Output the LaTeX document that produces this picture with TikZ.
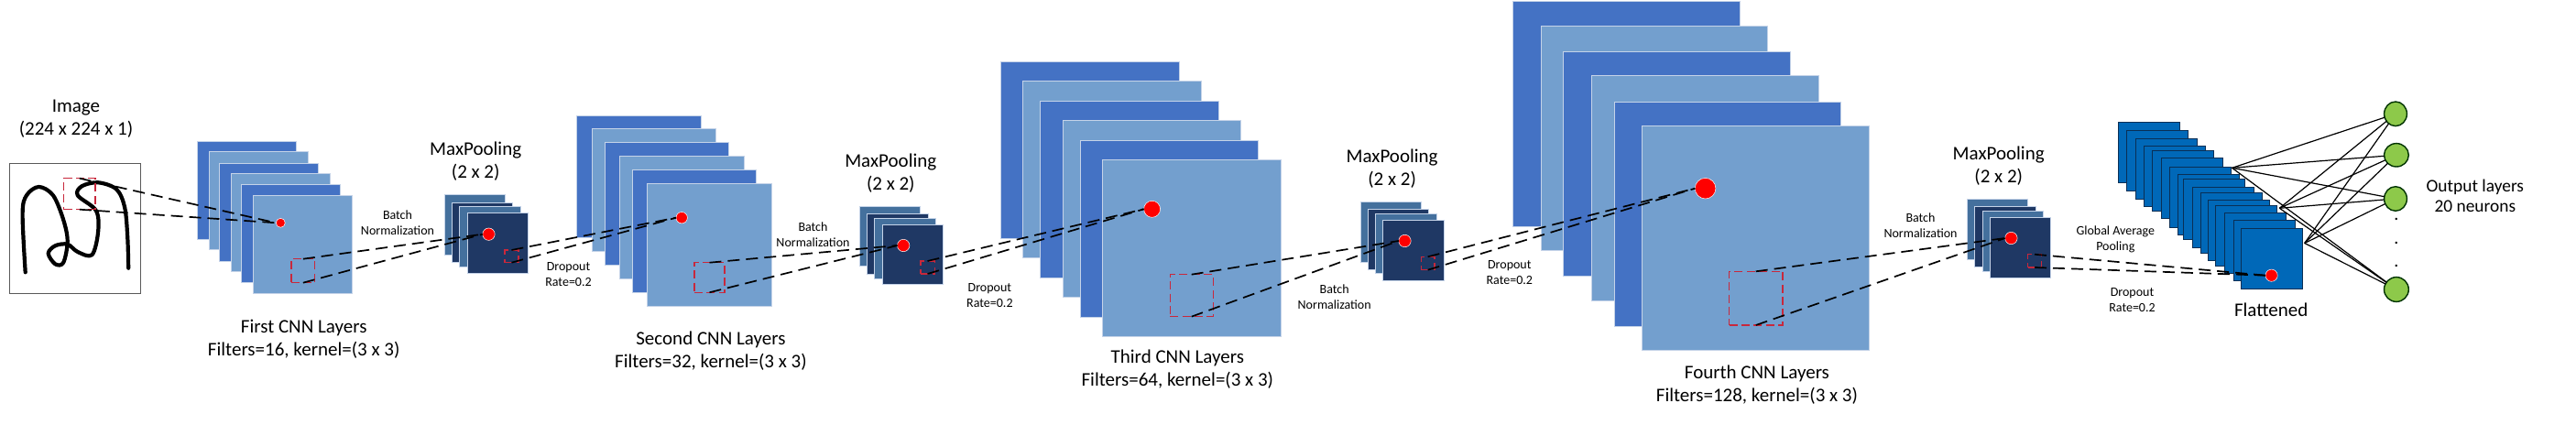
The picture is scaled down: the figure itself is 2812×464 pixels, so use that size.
\documentclass[tikz,border=0pt]{standalone}
\usepackage{fontspec}
\setmainfont{Carlito}
\usetikzlibrary{shapes.geometric}
\definecolor{cdark}{HTML}{4472C4}
\definecolor{clight}{HTML}{739FCE}
\definecolor{cedge}{HTML}{C5D3E8}
\definecolor{pmid}{HTML}{44709D}
\definecolor{pdark}{HTML}{1F3864}
\definecolor{fblue}{HTML}{0068B8}
\definecolor{fedge}{HTML}{0A2F55}
\definecolor{cgreen}{HTML}{8DC94A}
\definecolor{cnred}{HTML}{FF0000}
\definecolor{boxred}{HTML}{C8283C}
\tikzset{
 lay/.style={rectangle,inner sep=0pt,outer sep=0pt},
 dk/.style={lay,fill=cdark,draw=cedge,line width=0.5pt},
 lt/.style={lay,fill=clight,draw=cedge,line width=0.5pt},
 pm/.style={lay,fill=pmid,draw=cedge,line width=0.4pt},
 pd/.style={lay,fill=pdark,draw=cedge,line width=0.4pt},
 fl/.style={lay,fill=fblue,draw=fedge,line width=0.5pt},
 redbox/.style={lay,draw=boxred,line width=0.6pt,dash pattern=on 4.5pt off 2.2pt},
 link/.style={draw=black,line width=0.85pt,dash pattern=on 6.5pt off 3.5pt},
 redot/.style={ellipse,fill=cnred,draw=white,line width=0.25pt,inner sep=0pt,outer sep=0pt},
 neuron/.style={ellipse,fill=cgreen,draw=black!80!green,line width=0.7pt,inner sep=0pt,outer sep=0pt},
 net/.style={draw=black,line width=0.6pt},
 big/.style={align=center,font=\fontsize{10.5}{12.5}\selectfont,inner sep=0pt},
 small/.style={align=center,font=\fontsize{7}{8.5}\selectfont,inner sep=0pt},
 vdot/.style={inner sep=0pt,anchor=base,font=\fontsize{10}{10}\selectfont},
}
\newcommand{\lay}[6]{%
 \pgfmathsetmacro\ww{(#5-#3)*0.5}\pgfmathsetmacro\hh{(#6-#4)*0.5}%
 \node[#2,minimum width=\ww pt,minimum height=\hh pt] (#1) at ({(#3+#5)/2},{(#4+#6)/2}) {};}
\newcommand{\rdot}[4]{%
 \node[redot,minimum width=#4pt,minimum height=#4pt] (#1) at (#2,#3) {};}
\begin{document}
\begin{tikzpicture}[x=0.5pt,y=-0.5pt]
\useasboundingbox (0,0) rectangle (2812,464);
% input image
\lay{img}{lay,draw=black!65,fill=white,line width=0.6pt}{10.3}{178.7}{153.6}{320.7}
\draw[line width=2.1pt,line cap=round,line join=round] plot[smooth,tension=0.55] coordinates {(27.7,297.3)(24.6,233.3)(29,213.3)(42.4,204)(58,213.3)(69.2,240)(73.7,263.3)(69.2,286.7)(60.3,288.3)(52.7,276.7)(60.3,268.3)(73.7,266.7)(84.8,275)(100.4,278.3)(107.1,253.3)(104.9,230)(84.8,213.3)(89.3,203.3)(107.1,199.3)(127.2,206.7)(136.2,226.7)(139.3,260)(140.2,292.7)};
\lay{rimg}{redbox}{69.6}{194.7}{104}{228.7}
% first CNN
\lay{a1}{dk}{215.6}{154.3}{323.2}{261.3}
\lay{a2}{lt}{228.6}{166}{336.6}{273}
\lay{a3}{dk}{239.3}{178.3}{347.3}{285.3}
\lay{a4}{lt}{252.2}{189.7}{360.7}{296.7}
\lay{a5}{dk}{263.4}{202}{371.4}{309}
\lay{a6}{lt}{276.3}{213.3}{384.4}{320.3}
\rdot{da}{306.3}{243.3}{5}
\lay{ra}{redbox}{317.9}{282.7}{343.8}{308.7}
% pool 1
\lay{p11}{pm}{485.3}{212.3}{551.3}{278.7}
\lay{p12}{pd}{493.3}{221}{559.8}{286.7}
\lay{p13}{pm}{501.3}{225.7}{568.3}{291.7}
\lay{p14}{pd}{510.3}{232.7}{576.3}{298.7}
\rdot{dp1}{533.5}{255.7}{6.7}
\lay{rp1}{redbox}{550.9}{273}{566}{286.7}
% second CNN
\lay{b1}{dk}{629.9}{126.3}{765.2}{260}
\lay{b2}{lt}{646.9}{140.7}{781.7}{275}
\lay{b3}{dk}{660.3}{156}{795.5}{290}
\lay{b4}{lt}{676.8}{170.3}{812}{304.3}
\lay{b5}{dk}{690.6}{186}{825.4}{320}
\lay{b6}{lt}{706.7}{200.3}{842.4}{334.3}
\rdot{db}{744.2}{237.7}{6.2}
\lay{rb}{redbox}{758}{286.7}{791}{319.3}
% pool 2
\lay{p21}{pm}{937.9}{225.3}{1004.5}{290.7}
\lay{p22}{pd}{946.4}{233.7}{1012.9}{299.3}
\lay{p23}{pm}{954.5}{238}{1021.4}{304}
\lay{p24}{pd}{963}{245.3}{1029.5}{310.7}
\rdot{dp2}{986.2}{268}{6.7}
\lay{rp2}{redbox}{1004.9}{285}{1020.1}{299}
% third CNN
\lay{c1}{dk}{1092.4}{68}{1287}{260.3}
\lay{c2}{lt}{1116.5}{88.7}{1311.6}{281.7}
\lay{c3}{dk}{1135.7}{110.7}{1330.4}{303.3}
\lay{c4}{lt}{1160.3}{131.7}{1354.5}{324.3}
\lay{c5}{dk}{1179.5}{153.7}{1373.7}{346.3}
\lay{c6}{lt}{1203.6}{174.3}{1398.2}{367.7}
\rdot{dc}{1257.6}{228.3}{9}
\lay{rc}{redbox}{1277.2}{299.7}{1324.1}{345.7}
% pool 3
\lay{p31}{pm}{1485.3}{220.3}{1551.3}{286}
\lay{p32}{pd}{1493.3}{228.3}{1559.8}{294}
\lay{p33}{pm}{1501.3}{233.3}{1568.3}{298.7}
\lay{p34}{pd}{1509.8}{240.3}{1576.3}{306}
\rdot{dp3}{1533.5}{263}{6.7}
\lay{rp3}{redbox}{1551.3}{280.3}{1566}{294.7}
% fourth CNN
\lay{e1}{dk}{1651.8}{2}{1899.1}{247.3}
\lay{e2}{lt}{1682.6}{28.7}{1929.9}{274}
\lay{e3}{dk}{1706.7}{56.7}{1954.5}{302}
\lay{e4}{lt}{1737.5}{83}{1985.3}{328.3}
\lay{e5}{dk}{1762}{111.3}{2009.4}{356.3}
\lay{e6}{lt}{1792.4}{137.3}{2040.6}{383}
\rdot{de}{1861.6}{205.7}{11.3}
\lay{re}{redbox}{1887.5}{296.3}{1946}{355}
% pool 4
\lay{p41}{pm}{2147.7}{217.7}{2213.5}{283.7}
\lay{p42}{pd}{2155.4}{225.7}{2222.2}{291.7}
\lay{p43}{pm}{2164}{230.3}{2230.3}{296}
\lay{p44}{pd}{2172.7}{237.3}{2238.5}{303.3}
\rdot{dp4}{2195.4}{260}{6.7}
\lay{rp4}{redbox}{2213.5}{277.7}{2228.5}{292}
% flattened
\foreach \n/\xx/\yy in {1/2312.1/134,2/2321.6/142.3,3/2331.6/151.3,4/2340.2/159.3,5/2349.3/165,6/2359.3/173,7/2368.8/182.3,8/2377.5/190.3,9/2383.8/195.7,10/2393.3/204.3,11/2402/210.7,12/2410.6/218.7,13/2418.3/224.3,14/2428.3/232.7,15/2438.3/241,16/2446.5/250}{
 \pgfmathsetmacro\xb{\xx+67}\pgfmathsetmacro\yb{\yy+66}
 \lay{f\n}{fl}{\xx}{\yy}{\xb}{\yb}
}
\rdot{df}{2479.6}{300.7}{6.6}
% output
\node[neuron,minimum width=12.4pt,minimum height=13.3pt] (n1) at (2615,124.3) {};
\node[neuron,minimum width=13.4pt,minimum height=12.7pt] (n2) at (2615.9,169.3) {};
\node[neuron,minimum width=12.4pt,minimum height=13.3pt] (n3) at (2615,217) {};
\node[neuron,minimum width=13.4pt,minimum height=13.4pt] (n4) at (2615.9,316) {};
\coordinate (h1) at (2436.5,183.3);
\coordinate (h2) at (2488.3,227.3);
\coordinate (h3) at (2515.7,265.5);
\foreach \h in {h1,h2,h3}{\foreach \m in {n1,n2,n3,n4}{\draw[net] (\h) -- (\m);}}
% dashed connectors
\draw[link] (rimg.north) -- (da.west);
\draw[link] (rimg.south) -- (da.west);
\draw[link] (ra.north) -- (dp1.west);
\draw[link] (ra.south) -- (dp1.west);
\draw[link] (rp1.north) -- (db.west);
\draw[link] (rp1.south) -- (db.west);
\draw[link] (rb.north) -- (dp2.west);
\draw[link] (rb.south) -- (dp2.west);
\draw[link] (rp2.north) -- (dc.west);
\draw[link] (rp2.south) -- (dc.west);
\draw[link] (rc.north) -- (dp3.west);
\draw[link] (rc.south) -- (dp3.west);
\draw[link] (rp3.north) -- (de.west);
\draw[link] (rp3.south) -- (de.west);
\draw[link] (re.north) -- (dp4.west);
\draw[link] (re.south) -- (dp4.west);
\draw[link] (rp4.north) -- (df.west);
\draw[link] (rp4.south) -- (df.west);
% texts
\node[big] (timg) at (83,130.2) {Image\\(224 x 224 x 1)};
\node[big] (tp1) at (519.2,176.5) {MaxPooling\\(2 x 2)};
\node[big] (tp2) at (972.3,188.7) {MaxPooling\\(2 x 2)};
\node[big] (tp3) at (1519.6,184.5) {MaxPooling\\(2 x 2)};
\node[big] (tp4) at (2181.7,181.3) {MaxPooling\\(2 x 2)};
\node[big] (ta) at (331.7,370.2) {First CNN Layers\\Filters=16, kernel=(3 x 3)};
\node[big] (tb) at (775.9,383) {Second CNN Layers\\Filters=32, kernel=(3 x 3)};
\node[big] (tc) at (1285.3,403.3) {Third CNN Layers\\Filters=64, kernel=(3 x 3)};
\node[big] (te) at (1917.9,420.2) {Fourth CNN Layers\\Filters=128, kernel=(3 x 3)};
\node[big] (tf) at (2479.2,338.7) {Flattened};
\node[big,font=\fontsize{9.7}{11}\selectfont] (tout) at (2701.8,214.3) {Output layers\\20 neurons};
\node[small] (s1) at (434,243.2) {Batch\\Normalization};
\node[small] (s2) at (887.5,256.2) {Batch\\Normalization};
\node[small] (s3) at (1456.7,323.7) {Batch\\Normalization};
\node[small] (s4) at (2096.5,246.2) {Batch\\Normalization};
\node[small] (d1) at (620.5,299.3) {Dropout\\Rate=0.2};
\node[small] (d2) at (1080.4,322.2) {Dropout\\Rate=0.2};
\node[small] (d3) at (1647.8,298) {Dropout\\Rate=0.2};
\node[small] (d4) at (2327.5,327.3) {Dropout\\Rate=0.2};
\node[small] (g1) at (2309.3,261.2) {Global Average\\Pooling};
\node[vdot] (v1) at (2615.9,240.5) {.};
\node[vdot] (v2) at (2615.9,266.2) {.};
\node[vdot] (v3) at (2615.9,291.9) {.};
\end{tikzpicture}
\end{document}
